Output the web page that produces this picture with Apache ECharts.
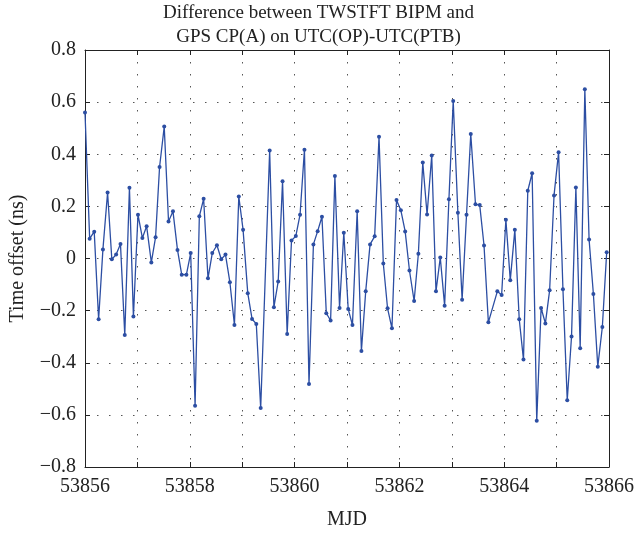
<!DOCTYPE html>
<html>
<head>
<meta charset="utf-8">
<script src="https://cdn.jsdelivr.net/npm/echarts@6/dist/echarts.min.js"></script>
<style>
  html, body { margin: 0; padding: 0; background: #fff; }
  #main { width: 637px; height: 535px; }
</style>
</head>
<body>
<div id="main"></div>
<script>
// MJD = 53856 + offset (days)
var mjdBase = 53856;
var dayOffset = [
  0, 0.089, 0.176, 0.260, 0.342, 0.431, 0.512, 0.594, 0.677, 0.759,
  0.848, 0.924, 1.011, 1.095, 1.176, 1.266, 1.347, 1.423, 1.512, 1.594,
  1.679, 1.765, 1.846, 1.935, 2.017, 2.101, 2.182, 2.264, 2.347, 2.429,
  2.518, 2.600, 2.681, 2.765, 2.852, 2.935, 3.017, 3.106, 3.188, 3.269,
  3.353, 3.524, 3.605, 3.687, 3.770, 3.858, 3.941, 4.023, 4.104, 4.188,
  4.275, 4.359, 4.440, 4.522, 4.605, 4.687, 4.769, 4.858, 4.939, 5.023,
  5.104, 5.194, 5.275, 5.357, 5.440, 5.528, 5.611, 5.693, 5.774, 5.858,
  5.945, 6.028, 6.110, 6.192, 6.281, 6.362, 6.446, 6.528, 6.617, 6.698,
  6.780, 6.863, 6.945, 7.027, 7.116, 7.197, 7.281, 7.362, 7.452, 7.533,
  7.615, 7.698, 7.869, 7.951, 8.032, 8.116, 8.203, 8.287, 8.368, 8.450,
  8.533, 8.621, 8.704, 8.786, 8.867, 8.951, 9.038, 9.121, 9.203, 9.285,
  9.368, 9.450, 9.539, 9.620, 9.702, 9.786, 9.873, 9.956
];
// time offset (ns)
var timeOffset = [
  0.560, 0.076, 0.103, -0.233, 0.035, 0.253, -0.003, 0.015, 0.056, -0.294,
  0.271, -0.223, 0.168, 0.079, 0.124, -0.015, 0.082, 0.351, 0.506, 0.142,
  0.181, 0.033, -0.062, -0.062, 0.021, -0.565, 0.162, 0.229, -0.076, 0.021,
  0.051, -0.003, 0.015, -0.091, -0.255, 0.238, 0.110, -0.133, -0.232, -0.251,
  -0.574, 0.414, -0.187, -0.088, 0.296, -0.290, 0.069, 0.086, 0.168, 0.417,
  -0.482, 0.054, 0.105, 0.160, -0.210, -0.238, 0.317, -0.190, 0.099, -0.194,
  -0.255, 0.181, -0.355, -0.126, 0.054, 0.085, 0.467, -0.019, -0.191, -0.268,
  0.224, 0.185, 0.104, -0.046, -0.163, 0.018, 0.368, 0.169, 0.395, -0.126,
  0.004, -0.181, 0.227, 0.604, 0.176, -0.158, 0.168, 0.478, 0.208, 0.205,
  0.050, -0.245, -0.126, -0.140, 0.149, -0.083, 0.110, -0.233, -0.388, 0.260,
  0.327, -0.623, -0.190, -0.249, -0.122, 0.242, 0.408, -0.118, -0.544, -0.299,
  0.272, -0.344, 0.649, 0.073, -0.136, -0.415, -0.263, 0.024
];

var chart = echarts.init(document.getElementById('main'));
var serif = 'Liberation Serif';

var points = [];
for (var i = 0; i < dayOffset.length; i++) {
  points.push([mjdBase + dayOffset[i], timeOffset[i]]);
}

function minusFmt(v) {
  var s = String(Math.round(v * 10) / 10);
  return s.replace('-', '\u2212');
}

var gridLine = { show: true, lineStyle: { color: '#555', type: [1.5, 10.5], width: 1 } };
var frameLine = { show: true, onZero: false, lineStyle: { color: '#222', width: 1 } };
var tickIn = { show: true, inside: true, length: 5, lineStyle: { color: '#222' } };

var option = {
  backgroundColor: '#fff',
  animation: false,
  title: {
    text: 'Difference between TWSTFT BIPM and\nGPS CP(A) on UTC(OP)-UTC(PTB)',
    left: 'center',
    top: 0,
    padding: [1, 0, 0, 30],
    textStyle: { fontFamily: serif, fontSize: 19, fontWeight: 'normal', color: '#222', lineHeight: 24 }
  },
  grid: { left: 84, right: 26, top: 50, bottom: 67 },
  xAxis: [{
    type: 'value', min: 53856, max: 53866, interval: 1,
    name: 'MJD', nameLocation: 'middle', nameGap: 43,
    nameTextStyle: { fontFamily: serif, fontSize: 20, color: '#222' },
    axisLine: frameLine, axisTick: tickIn,
    axisLabel: {
      fontFamily: serif, fontSize: 20, color: '#222', margin: 10,
      formatter: function (v) { return v % 2 === 0 ? String(v) : ''; }
    },
    splitLine: gridLine
  }, {
    type: 'value', min: 53856, max: 53866, interval: 1, position: 'top',
    axisLine: frameLine, axisTick: tickIn, axisLabel: { show: false }, splitLine: { show: false }
  }],
  yAxis: [{
    type: 'value', min: -0.8, max: 0.8, interval: 0.2,
    name: 'Time offset (ns)', nameLocation: 'middle', nameGap: 57,
    nameTextStyle: { fontFamily: serif, fontSize: 20, color: '#222' },
    axisLine: frameLine, axisTick: tickIn,
    axisLabel: { fontFamily: serif, fontSize: 20, color: '#222', margin: 9, formatter: minusFmt },
    splitLine: gridLine
  }, {
    type: 'value', min: -0.8, max: 0.8, interval: 0.2, position: 'right',
    axisLine: frameLine, axisTick: tickIn, axisLabel: { show: false }, splitLine: { show: false }
  }],
  series: [{
    type: 'line',
    data: points,
    symbol: 'circle',
    symbolSize: 4,
    lineStyle: { color: '#2c4ea3', width: 1.3 },
    itemStyle: { color: '#2c4ea3' }
  }]
};
chart.setOption(option);
</script>
</body>
</html>
